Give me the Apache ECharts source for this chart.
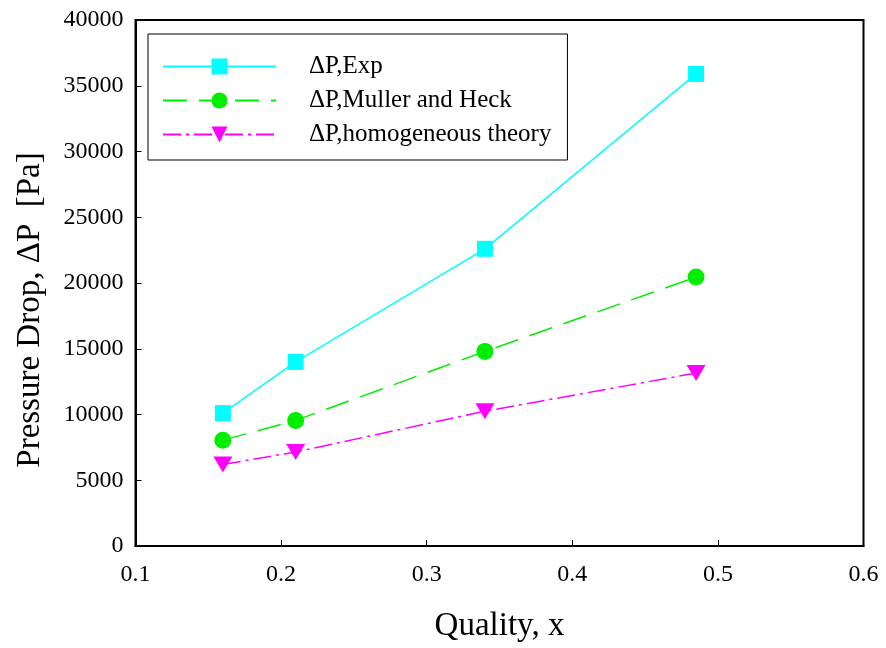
<!DOCTYPE html>
<html>
<head>
<meta charset="utf-8">
<script src="https://cdn.jsdelivr.net/npm/echarts@6/dist/echarts.min.js"></script>
<style>
  html, body { margin: 0; padding: 0; background: #fff; }
  #chart-container { width: 886px; height: 648px; }
</style>
</head>
<body>
<div id="chart-container"></div>
<script>
const quality = [0.16, 0.21, 0.34, 0.485]
const expDrop = [10100, 14000, 22600, 35900]
const mullerDrop = [8050, 9550, 14800, 20450]
const homoDrop = [6200, 7150, 10250, 13150]
const seriesNames = ['ΔP,Exp', 'ΔP,Muller and Heck', 'ΔP,homogeneous theory']

const pairs = ys => quality.map((x, i) => [x, ys[i]])
const font = 'Liberation Serif, Times New Roman, serif'

const dom = document.getElementById('chart-container')
const myChart = echarts.init(dom, null, { renderer: 'canvas' })

const axisCommon = {
  axisLine: { show: true, onZero: false, lineStyle: { color: '#000', width: 2 } },
  axisTick: { show: true, inside: true, length: 6, lineStyle: { color: '#000', width: 1 } },
  splitLine: { show: false },
  axisLabel: { color: '#000', fontFamily: font, fontSize: 24 },
  nameTextStyle: { color: '#000', fontFamily: font, fontSize: 33 },
  nameLocation: 'middle'
}

const options = {
  animation: false,
  grid: {
    left: 135.5, right: 22.5, top: 20, bottom: 102,
    outerBoundsMode: 'none', containLabel: false,
    show: true, borderColor: '#000', borderWidth: 2
  },
  legend: {
    orient: 'vertical',
    left: 148, top: 34,
    padding: [20, 16, 13, 14],
    borderColor: '#000', borderWidth: 1,
    itemWidth: 113, itemHeight: 20, itemGap: 9,
    textStyle: { color: '#000', fontFamily: font, fontSize: 25, padding: [0, 0, 0, 28] },
    data: seriesNames
  },
  xAxis: {
    ...axisCommon,
    type: 'value', min: 0.1, max: 0.6, interval: 0.1,
    name: 'Quality, x', nameGap: 64,
    axisLabel: { ...axisCommon.axisLabel, margin: 17, formatter: v => v.toFixed(1) }
  },
  yAxis: {
    ...axisCommon,
    type: 'value', min: 0, max: 40000, interval: 5000,
    name: 'Pressure Drop, ΔP  [Pa]', nameGap: 89,
    nameTextStyle: { ...axisCommon.nameTextStyle, padding: [0, 54, 0, 0] },
    axisLabel: { ...axisCommon.axisLabel, margin: 12, formatter: v => String(v) }
  },
  series: [
    {
      name: seriesNames[0], type: 'line', data: pairs(expDrop),
      color: '#00ffff', symbol: 'rect', symbolSize: 16,
      lineStyle: { width: 1.5, color: '#00ffff' }
    },
    {
      name: seriesNames[1], type: 'line', data: pairs(mullerDrop),
      color: '#00ee00', symbol: 'circle', symbolSize: 17,
      lineStyle: { width: 1.5, color: '#00ee00', type: [24, 12] }
    },
    {
      name: seriesNames[2], type: 'line', data: pairs(homoDrop),
      color: '#ff00ff', symbol: 'triangle', symbolSize: [19, 16], symbolRotate: 180,
      lineStyle: { width: 1.5, color: '#ff00ff', type: [18, 5, 3, 5] }
    }
  ]
}

myChart.setOption(options)
window.addEventListener('resize', myChart.resize)
</script>
</body>
</html>
